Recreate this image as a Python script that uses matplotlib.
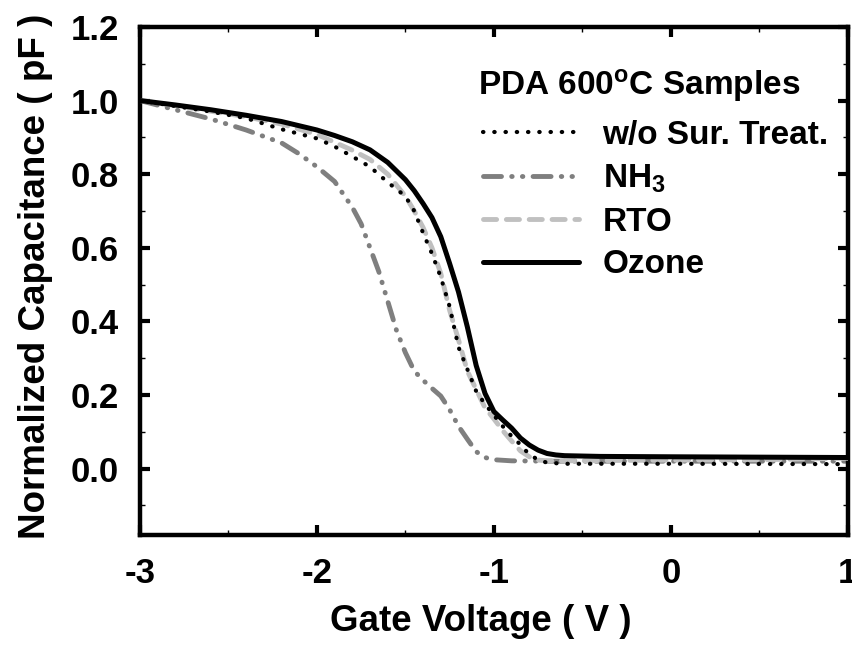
import matplotlib
matplotlib.use('Agg')
import matplotlib.pyplot as plt
from matplotlib.ticker import MultipleLocator

plt.rcParams['font.family'] = ['Liberation Sans', 'DejaVu Sans']
plt.rcParams['font.weight'] = 'bold'
plt.rcParams['axes.labelweight'] = 'bold'
plt.rcParams['axes.unicode_minus'] = False
plt.rcParams['mathtext.fontset'] = 'custom'
plt.rcParams['mathtext.rm'] = 'Liberation Sans:bold'
plt.rcParams['mathtext.bf'] = 'Liberation Sans:bold'
plt.rcParams['mathtext.it'] = 'Liberation Sans:bold'
plt.rcParams['mathtext.default'] = 'bf'

# gate voltage (V) / normalized capacitance
v_plain = [-3.0, -2.8, -2.6, -2.4, -2.2, -2.0, -1.9, -1.8, -1.7, -1.6, -1.5, -1.45, -1.4, -1.35,
           -1.3, -1.25, -1.2, -1.15, -1.1, -1.05, -1.0, -0.95, -0.9, -0.85, -0.8, -0.75, -0.7,
           -0.6, 0.0, 1.0]
c_plain = [1.0, 0.985, 0.97, 0.952, 0.922, 0.897, 0.875, 0.848, 0.82, 0.778, 0.74, 0.70, 0.64,
           0.584, 0.52, 0.44, 0.33, 0.27, 0.21, 0.175, 0.145, 0.115, 0.088, 0.065, 0.038, 0.024,
           0.016, 0.013, 0.013, 0.012]

v_nh3 = [-3.0, -2.8, -2.6, -2.4, -2.2, -2.1, -2.0, -1.9, -1.8, -1.75, -1.7, -1.65, -1.6, -1.55,
         -1.5, -1.45, -1.4, -1.35, -1.3, -1.25, -1.2, -1.15, -1.1, -1.05, -1.0, -0.9, -0.7,
         0.0, 1.0]
c_nh3 = [1.0, 0.975, 0.95, 0.92, 0.885, 0.855, 0.82, 0.78, 0.71, 0.665, 0.60, 0.535, 0.455,
         0.375, 0.315, 0.265, 0.24, 0.218, 0.197, 0.16, 0.115, 0.08, 0.046, 0.03, 0.024, 0.021,
         0.02, 0.02, 0.02]

v_rto = [-3.0, -2.8, -2.6, -2.4, -2.2, -2.0, -1.8, -1.7, -1.6, -1.5, -1.45, -1.4, -1.35, -1.3,
         -1.25, -1.2, -1.15, -1.1, -1.05, -1.0, -0.95, -0.9, -0.85, -0.8, -0.75, -0.7, -0.6,
         -0.3, 0.0, 0.5, 1.0]
c_rto = [1.0, 0.986, 0.971, 0.956, 0.936, 0.908, 0.865, 0.84, 0.80, 0.74, 0.70, 0.655, 0.60,
         0.53, 0.43, 0.35, 0.265, 0.215, 0.165, 0.135, 0.103, 0.075, 0.048, 0.032, 0.023,
         0.021, 0.021, 0.022, 0.023, 0.024, 0.028]

v_ozone = [-3.0, -2.8, -2.6, -2.4, -2.2, -2.0, -1.9, -1.8, -1.7, -1.6, -1.5, -1.45, -1.4, -1.35,
           -1.3, -1.25, -1.2, -1.15, -1.1, -1.05, -1.0, -0.95, -0.9, -0.85, -0.8, -0.75, -0.7,
           -0.65, -0.6, -0.4, 0.0, 0.5, 1.0]
c_ozone = [1.0, 0.988, 0.975, 0.96, 0.943, 0.92, 0.905, 0.888, 0.866, 0.832, 0.785, 0.755, 0.72,
           0.682, 0.63, 0.557, 0.48, 0.385, 0.28, 0.204, 0.155, 0.132, 0.11, 0.083, 0.064, 0.05,
           0.041, 0.037, 0.035, 0.033, 0.032, 0.031, 0.03]

labels = ['w/o Sur. Treat.', 'NH$_3$', 'RTO', 'Ozone']
legend_title = 'PDA 600$^{\\rm o}$C Samples'

fig = plt.figure(figsize=(8.53, 6.57), dpi=100)
ax = fig.add_axes([0.164, 0.186, 0.83, 0.773])

l_nh3, = ax.plot(v_nh3, c_nh3, color='#7f7f7f', lw=3.5, ls=(0, (3.7, 2.1, 0.1, 2.1, 0.1, 2.1)),
                 dash_capstyle='round', zorder=2)
l_rto, = ax.plot(v_rto, c_rto, color='#c0c0c0', lw=3.5, ls=(0, (2.7, 2.0)),
                 dash_capstyle='round', zorder=3)
l_plain, = ax.plot(v_plain, c_plain, color='black', lw=3, ls=(0, (0.1, 2.6)),
                   dash_capstyle='round', zorder=4)
l_ozone, = ax.plot(v_ozone, c_ozone, color='black', lw=3.6, solid_capstyle='round', zorder=5)

ax.set_xlim(-3, 1)
ax.set_ylim(-0.18, 1.2)
ax.xaxis.set_major_locator(MultipleLocator(1))
ax.xaxis.set_minor_locator(MultipleLocator(0.5))
ax.yaxis.set_minor_locator(MultipleLocator(0.1))
ax.set_yticks([0.0, 0.2, 0.4, 0.6, 0.8, 1.0, 1.2])

for s in ax.spines.values():
    s.set_linewidth(3.2)
ax.tick_params(which='major', direction='in', length=7.5, width=3, top=True, right=True,
               labelsize=25)
ax.tick_params(which='minor', direction='in', length=3.5, width=1, top=True, right=True)
ax.tick_params(axis='x', which='major', pad=16)
ax.tick_params(axis='y', which='major', pad=15)

ax.set_xlabel('Gate Voltage ( V )', fontsize=26.5, labelpad=10, x=0.482)
ax.set_ylabel('Normalized Capacitance ( pF )', fontsize=26.5, labelpad=13, y=0.508)

# legend heading sits a bit further above the entries than the entries are apart
ax.text(0.477, 0.921, legend_title, transform=ax.transAxes, fontsize=24, va='top', ha='left')
ax.legend([l_plain, l_nh3, l_rto, l_ozone], labels, fontsize=24,
          loc='upper left', bbox_to_anchor=(0.484, 0.817), frameon=False,
          borderpad=0, borderaxespad=0, handlelength=2.9, handletextpad=0.7,
          labelspacing=0.35)

fig.savefig('out.png', dpi=100)
